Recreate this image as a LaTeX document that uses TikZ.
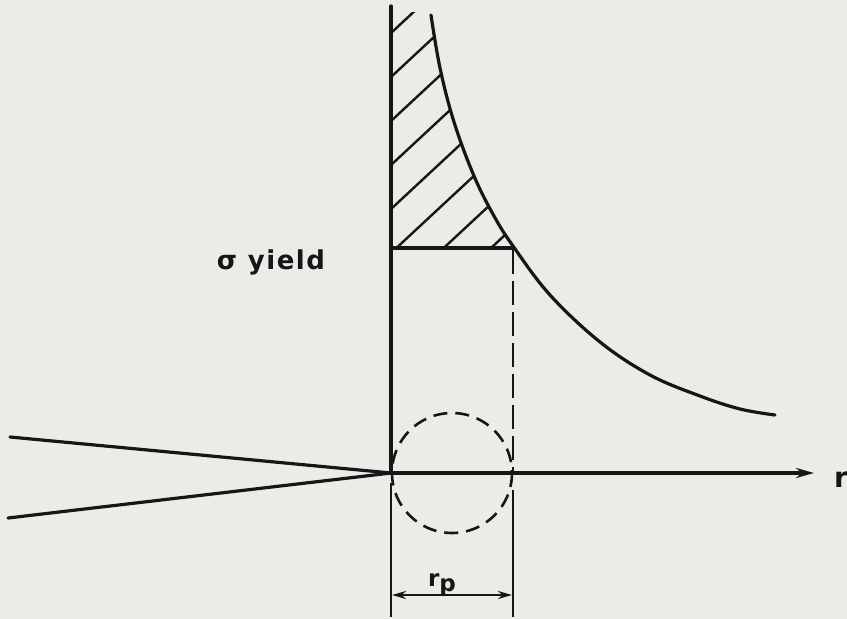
\documentclass[tikz,border=0pt]{standalone}
\usepackage{fontspec}
\setmainfont{DejaVu Sans}
\usetikzlibrary{arrows.meta}
\definecolor{paper}{RGB}{233,236,231}
\definecolor{ink}{RGB}{22,22,22}
\tikzset{
  solidline/.style={draw=ink, line width=3.2pt, line cap=round},
  thinline/.style={draw=ink, line width=2.4pt},
  dashline/.style={draw=ink, line width=2.8pt, dash pattern=on 24pt off 7pt},
  circdash/.style={draw=ink, line width=2.6pt, dash pattern=on 14pt off 8pt},
  hatchline/.style={draw=ink, line width=2.4pt},
  lbl/.style={text=ink, inner sep=0pt},
}
\begin{document}
\begin{tikzpicture}[x=1pt,y=-1pt]
\fill[paper] (0,0) rectangle (847,619);
\useasboundingbox (0,0) rectangle (847,619);
% key points
\coordinate (tip) at (391,473);
\coordinate (ytop) at (391,6);
\coordinate (ybot) at (391,617);
\coordinate (rend) at (814,473);
\coordinate (cu) at (10,437);
\coordinate (cl) at (8,518);
\coordinate (yl) at (391,248);
\coordinate (yr) at (513,248);
\coordinate (ra) at (513,473);
\coordinate (rb) at (513,490);
\coordinate (rbot) at (513,617);
\coordinate (dl) at (392,595);
\coordinate (dr) at (512,595);
% hatching clipped to region under curve
\begin{scope}
\clip (391,12) -- (431,12) -- plot[smooth, tension=0.6] coordinates {(431,15) (440,68) (454,122) (474,176) (494,216) (513,246)} -- (yl) -- cycle;
\foreach \k in {0,...,7}{
  \draw[hatchline] (391,33+44*\k) -- ++(300,-279);
}
\end{scope}
% curve
\draw[solidline] plot[smooth, tension=0.6] coordinates {(431,15) (440,68) (454,122) (474,176) (494,216) (513,246) (550,295) (600,342) (650,375) (700,396) (740,409) (775,415)};
% axes
\draw[solidline] (ytop) -- (tip);
\draw[thinline] (391,483) -- (ybot);
\draw[solidline, -{Stealth[length=18pt,width=10pt]}] (tip) -- (rend);
% crack flanks
\draw[solidline] (cu) -- (tip);
\draw[solidline] (cl) -- (tip);
% yield line
\draw[solidline] (yl) -- (yr);
\draw[dashline] (513,250) -- (ra);
\draw[thinline] (rb) -- (rbot);
% plastic zone
\draw[circdash] (452,473) circle[radius=60];
% dimension
\draw[thinline, {Stealth[length=14pt,width=8pt]}-{Stealth[length=14pt,width=8pt]}] (dl) -- (dr);
% labels
\node[lbl, font=\fontsize{26}{28}\selectfont\bfseries\addfontfeature{LetterSpace=6}] (sy) at (271,262) {σ yield};
\node[lbl, font=\fontsize{28}{30}\selectfont\bfseries, anchor=west] (rl) at (834,480) {r};
\node[lbl, font=\fontsize{23}{25}\selectfont\bfseries, anchor=south] (rp) at (442,596) {r\raisebox{-5pt}{p}};
\end{tikzpicture}
\end{document}
